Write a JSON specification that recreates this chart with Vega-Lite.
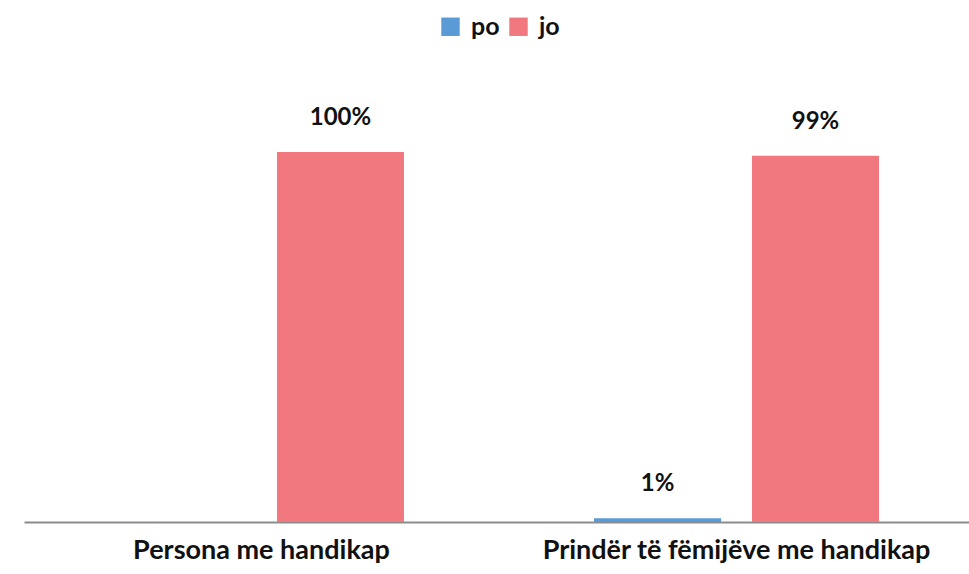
{
  "$schema": "https://vega.github.io/schema/vega-lite/v6.json",
  "width": 950,
  "height": 444,
  "autosize": {"type": "none"},
  "padding": {"left": 24, "top": 78, "right": 0, "bottom": 52},
  "background": "white",
  "config": {"view": {"stroke": null}, "font": "Lato"},
  "data": {
    "values": [
      {"group": "Persona me handikap", "answer": "po", "value": 0},
      {"group": "Persona me handikap", "answer": "jo", "value": 1.0},
      {"group": "Prindër të fëmijëve me handikap", "answer": "po", "value": 0.01},
      {"group": "Prindër të fëmijëve me handikap", "answer": "jo", "value": 0.99}
    ]
  },
  "encoding": {
    "x": {
      "field": "group",
      "type": "nominal",
      "sort": null,
      "scale": {"paddingInner": 0.4, "paddingOuter": 0.2},
      "axis": {
        "title": null,
        "labelAngle": 0,
        "labelFontSize": 27,
        "labelFontWeight": "bold",
        "labelColor": "#111111",
        "labelPadding": 15,
        "labelLimit": 0,
        "ticks": false,
        "domainColor": "#8c8c8c",
        "domainWidth": 2,
        "grid": false
      }
    },
    "xOffset": {
      "field": "answer",
      "type": "nominal",
      "sort": ["po", "jo"],
      "scale": {"paddingInner": 0.196, "paddingOuter": 0}
    },
    "y": {
      "field": "value",
      "type": "quantitative",
      "scale": {"domain": [0, 1.2], "nice": false},
      "axis": null
    }
  },
  "layer": [
    {
      "mark": {"type": "bar"},
      "encoding": {
        "color": {
          "field": "answer",
          "type": "nominal",
          "sort": ["po", "jo"],
          "scale": {"domain": ["po", "jo"], "range": ["#5B9BD5", "#F2787F"]},
          "legend": {
            "title": null,
            "orient": "none",
            "direction": "horizontal",
            "legendX": 414,
            "legendY": -64,
            "symbolType": "square",
            "symbolSize": 340,
            "symbolStrokeWidth": 0,
            "labelFontSize": 25,
            "labelFontWeight": "bold",
            "labelColor": "#111111",
            "labelOffset": 8,
            "columnPadding": 6
          }
        }
      }
    },
    {
      "transform": [{"filter": "datum.value > 0"}],
      "mark": {"type": "text", "baseline": "bottom", "dy": -22, "fontSize": 24, "fontWeight": "bold", "color": "#111111"},
      "encoding": {
        "text": {"field": "value", "type": "quantitative", "format": ".0%"}
      }
    }
  ]
}
